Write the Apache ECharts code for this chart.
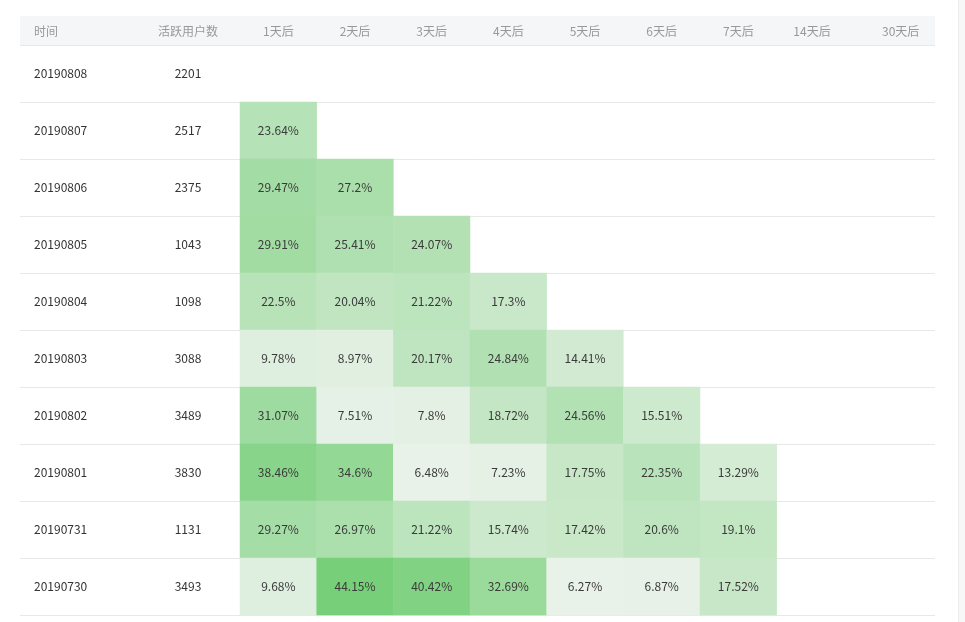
<!DOCTYPE html>
<html>
<head>
<meta charset="utf-8">
<script src="https://cdn.jsdelivr.net/npm/echarts@6/dist/echarts.min.js"></script>
<style>
html,body{margin:0;padding:0;background:#fff;}
#chart{width:965px;height:622px;}
</style>
</head>
<body>
<div id="chart"></div>
<script>
// ---- data ----
const dates = ['20190808','20190807','20190806','20190805','20190804','20190803','20190802','20190801','20190731','20190730'];
const activeUsers = [2201, 2517, 2375, 1043, 1098, 3088, 3489, 3830, 1131, 3493];
const dayLabels = ['1天后','2天后','3天后','4天后','5天后','6天后','7天后','14天后','30天后'];
const headerTime = '时间';
const headerUsers = '活跃用户数';
// retention (%) per row, columns 1天后..7天后
const ret20190808 = [];
const ret20190807 = [23.64];
const ret20190806 = [29.47, 27.2];
const ret20190805 = [29.91, 25.41, 24.07];
const ret20190804 = [22.5, 20.04, 21.22, 17.3];
const ret20190803 = [9.78, 8.97, 20.17, 24.84, 14.41];
const ret20190802 = [31.07, 7.51, 7.8, 18.72, 24.56, 15.51];
const ret20190801 = [38.46, 34.6, 6.48, 7.23, 17.75, 22.35, 13.29];
const ret20190731 = [29.27, 26.97, 21.22, 15.74, 17.42, 20.6, 19.1];
const ret20190730 = [9.68, 44.15, 40.42, 32.69, 6.27, 6.87, 17.52];
const retentionRows = [ret20190808, ret20190807, ret20190806, ret20190805, ret20190804,
  ret20190803, ret20190802, ret20190801, ret20190731, ret20190730];

const heatData = [];
retentionRows.forEach((row, r) => {
  row.forEach((v, c) => heatData.push([c, r, v]));
});

const FONT = "'Microsoft YaHei', 'Noto Sans CJK SC', sans-serif";
const chart = echarts.init(document.getElementById('chart'));
const GRID_TOP = 45, GRID_BOTTOM = 7;

chart.setOption({
  backgroundColor: '#fff',
  animation: false,
  textStyle: { fontFamily: FONT },
  grid: [
    { left: 240, right: 35, top: GRID_TOP, bottom: GRID_BOTTOM },
    { left: 20, right: 30, top: GRID_TOP, bottom: GRID_BOTTOM }
  ],
  xAxis: [
    {
      gridIndex: 0, type: 'category', data: dayLabels, position: 'top',
      axisLine: { show: false }, axisTick: { show: false }, splitLine: { show: false },
      axisLabel: {
        color: '#999', fontSize: 12, margin: 8, fontFamily: FONT,
        formatter: (val, idx) => idx === 7 ? '{a|' + val + '}' : (idx === 8 ? '{b|' + val + '}' : val),
        rich: {
          a: { color: '#999', fontSize: 12, fontFamily: FONT, padding: [0, 6, 0, 0] },
          b: { color: '#999', fontSize: 12, fontFamily: FONT, padding: [0, 0, 0, 18] }
        }
      }, z: 5
    },
    { gridIndex: 1, type: 'value', show: false }
  ],
  yAxis: [
    {
      gridIndex: 0, type: 'category', data: dates, inverse: true,
      axisLine: { show: false }, axisTick: { show: false }, splitLine: { show: false },
      axisLabel: {
        margin: 206, align: 'left', color: '#333', fontSize: 12, fontFamily: FONT,
        formatter: (val, idx) => '{d|' + val + '}{u|' + activeUsers[idx] + '}',
        rich: {
          d: { width: 124, align: 'left', color: '#333', fontSize: 12, fontFamily: FONT },
          u: { width: 60, align: 'center', color: '#333', fontSize: 12, fontFamily: FONT }
        }
      }
    },
    {
      gridIndex: 1, type: 'category', data: dates, inverse: true,
      axisLine: { show: false }, axisTick: { show: false }, axisLabel: { show: false },
      splitLine: { show: true, lineStyle: { color: '#e8e8e8', width: 1 } }
    }
  ],
  visualMap: {
    show: false, type: 'continuous', min: 6, max: 44.15, dimension: 2, seriesIndex: 0,
    inRange: { color: ['#eaf2ea', '#77cf79'] }
  },
  graphic: [
    { type: 'rect', shape: { x: 20, y: 16, width: 915, height: 30 }, style: { fill: '#f5f6f8' }, z: -10, silent: true },
    { type: 'text', left: 34, top: 25, style: { text: headerTime, fill: '#999', font: '12px ' + FONT }, z: 10 },
    { type: 'text', left: 158, top: 25, style: { text: headerUsers, fill: '#999', font: '12px ' + FONT }, z: 10 },
    { type: 'rect', shape: { x: 958, y: 0, width: 7, height: 622 }, style: { fill: '#f7f7f8' }, z: -10, silent: true },
    { type: 'line', shape: { x1: 958.5, y1: 0, x2: 958.5, y2: 622 }, style: { stroke: '#ececec', lineWidth: 1 }, z: -9, silent: true }
  ],
  series: [
    {
      type: 'heatmap', xAxisIndex: 0, yAxisIndex: 0, data: heatData,
      itemStyle: { borderWidth: 0 },
      label: {
        show: true, color: '#3a3a3a', fontSize: 12, fontFamily: FONT,
        formatter: p => p.value[2] + '%'
      }
    }
  ]
});
</script>
</body>
</html>
